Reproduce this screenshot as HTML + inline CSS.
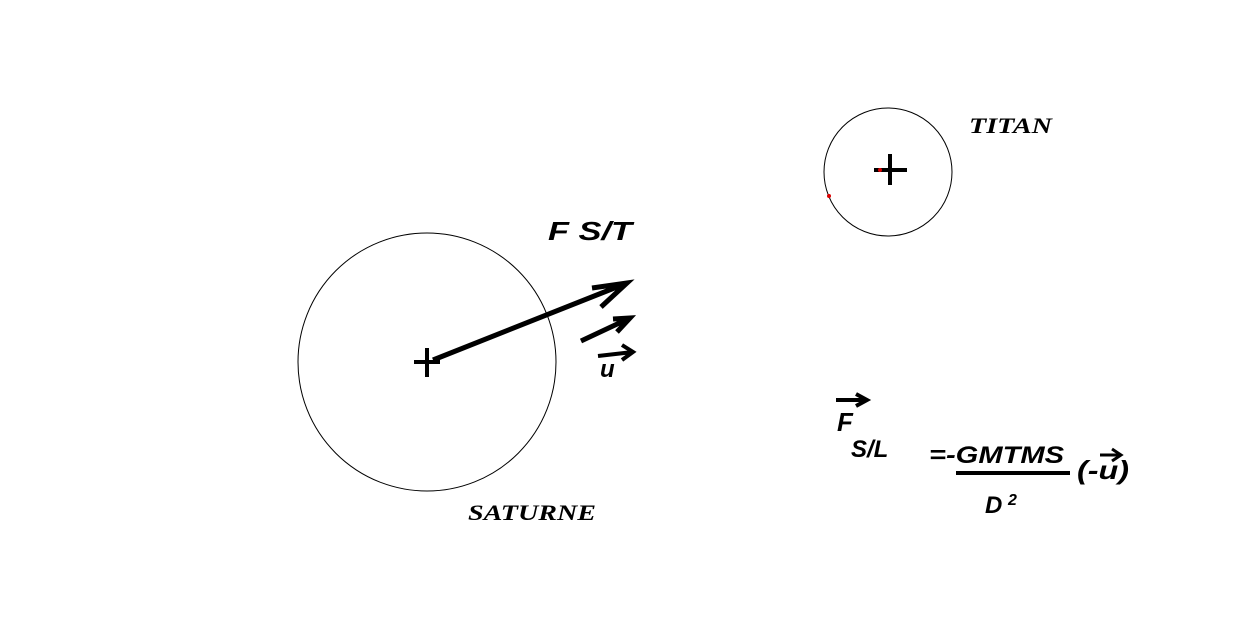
<!DOCTYPE html>
<html><head><meta charset="utf-8"><style>
html,body{margin:0;padding:0;background:#fff;}
svg{display:block}
text{font-family:"Liberation Sans",sans-serif;font-style:italic;font-weight:bold;fill:#000}
.s{font-family:"Liberation Serif",serif;font-weight:900}
</style></head><body>
<svg width="1240" height="643" viewBox="0 0 1240 643">
<g fill="none" stroke="#000">
<circle cx="427" cy="362" r="129" stroke-width="1"/>
<circle cx="888" cy="172" r="64" stroke-width="1"/>
<path d="M414 362H440M427 348V377" stroke-width="4"/>
<path d="M874 170H907M890 154V185" stroke-width="4"/>
<path d="M433 360L627 283M592 288L627 283L601 307" stroke-width="5"/>
<path d="M581 341L630 318M613 319L630 318L617 332" stroke-width="5"/>
<path d="M598 356L633 352M622 345L633 352L622 360" stroke-width="4"/>
<path d="M836 400H866M856 394L867 400L856 406" stroke-width="4"/>
<path d="M1100 455H1120M1112 449L1121 455L1112 461" stroke-width="3"/>
<path d="M956 473H1070" stroke-width="4"/>
</g>
<circle cx="829" cy="196" r="2" fill="#d00"/>
<circle cx="880" cy="170" r="2" fill="#d00"/>
<text x="548" y="240" font-size="26" font-weight="normal" textLength="84" lengthAdjust="spacingAndGlyphs">F S/T</text>
<text x="600" y="377" font-size="24">u</text>
<text x="837" y="431" font-size="26">F</text>
<text x="851" y="457" font-size="24">S/L</text>
<text x="929" y="463" font-size="24" textLength="135" lengthAdjust="spacingAndGlyphs">=-GMTMS</text>
<text x="1077" y="479" font-size="26" textLength="52" lengthAdjust="spacingAndGlyphs">(-u)</text>
<text x="985" y="513" font-size="24">D</text>
<text x="1008" y="505" font-size="16">2</text>
<text class="s" x="969" y="133" font-size="22" textLength="83" lengthAdjust="spacingAndGlyphs">TITAN</text>
<text class="s" x="468" y="520" font-size="22" textLength="128" lengthAdjust="spacingAndGlyphs">SATURNE</text>
</svg>
</body></html>
